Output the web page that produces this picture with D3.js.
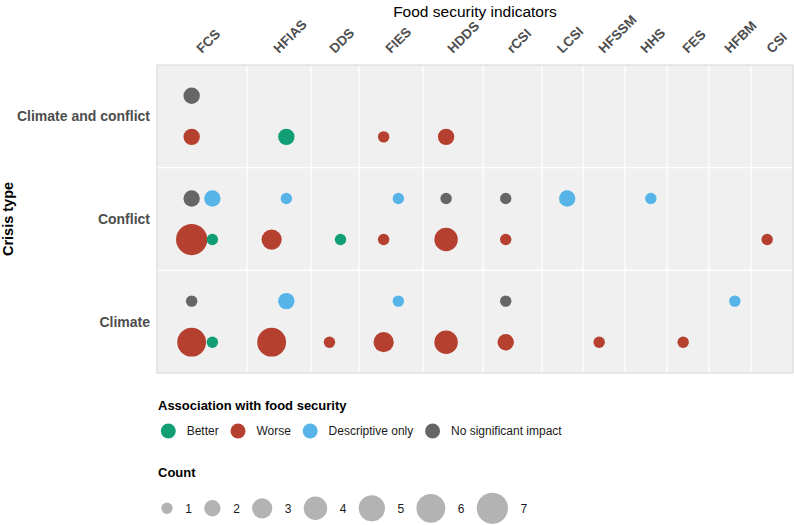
<!DOCTYPE html>
<html>
<head>
<meta charset="utf-8">
<script src="https://cdn.jsdelivr.net/npm/d3@7"></script>
<style>
  html, body { margin: 0; padding: 0; background: #ffffff; }
  svg { display: block; font-family: "Liberation Sans", Arial, sans-serif; }
</style>
</head>
<body>
<svg id="chart" width="794" height="525"></svg>
<script>
// ---------- data ----------
const indicators = ["FCS", "HFIAS", "DDS", "FIES", "HDDS", "rCSI", "LCSI", "HFSSM", "HHS", "FES", "HFBM", "CSI"];
const crisisTypes = ["Climate and conflict", "Conflict", "Climate"];
const associations = ["Better", "Worse", "Descriptive only", "No significant impact"];
const countLevels = [1, 2, 3, 4, 5, 6, 7];

// [indicator, association, count]
const climateConflictPoints = [
  ["FCS", "No significant impact", 2],
  ["FCS", "Worse", 2],
  ["HFIAS", "Better", 2],
  ["FIES", "Worse", 1],
  ["HDDS", "Worse", 2]
];
const conflictPoints = [
  ["FCS", "No significant impact", 2],
  ["FCS", "Descriptive only", 2],
  ["FCS", "Worse", 7],
  ["FCS", "Better", 1],
  ["HFIAS", "Descriptive only", 1],
  ["HFIAS", "Worse", 3],
  ["DDS", "Better", 1],
  ["FIES", "Descriptive only", 1],
  ["FIES", "Worse", 1],
  ["HDDS", "No significant impact", 1],
  ["HDDS", "Worse", 4],
  ["rCSI", "No significant impact", 1],
  ["rCSI", "Worse", 1],
  ["LCSI", "Descriptive only", 2],
  ["HHS", "Descriptive only", 1],
  ["CSI", "Worse", 1]
];
const climatePoints = [
  ["FCS", "No significant impact", 1],
  ["FCS", "Worse", 6],
  ["FCS", "Better", 1],
  ["HFIAS", "Descriptive only", 2],
  ["HFIAS", "Worse", 6],
  ["DDS", "Worse", 1],
  ["FIES", "Descriptive only", 1],
  ["FIES", "Worse", 3],
  ["HDDS", "Worse", 4],
  ["rCSI", "No significant impact", 1],
  ["rCSI", "Worse", 2],
  ["HFSSM", "Worse", 1],
  ["FES", "Worse", 1],
  ["HFBM", "Descriptive only", 1]
];

// ---------- layout / style ----------
const columnWeights = [90, 64, 48, 64, 60, 59, 41, 42, 42, 42, 42, 42];
const colors = {
  "Better": "#119E74",
  "Worse": "#B5402F",
  "Descriptive only": "#56B4E9",
  "No significant impact": "#666666"
};
const dodgeX = { "Better": "right", "Worse": "left", "Descriptive only": "right", "No significant impact": "left" };
const dodgeY = { "Better": "lower", "Worse": "lower", "Descriptive only": "upper", "No significant impact": "upper" };

const panel = { left: 157, right: 793, top: 65, bottom: 373 };
const svg = d3.select("#chart");

// x: columns of variable width
const cum = [0];
columnWeights.forEach(w => cum.push(cum[cum.length - 1] + w));
const xLin = d3.scaleLinear().domain([0, cum[cum.length - 1]]).range([panel.left, panel.right]);
const colStart = {}, colEnd = {};
indicators.forEach((k, i) => { colStart[k] = xLin(cum[i]); colEnd[k] = xLin(cum[i + 1]); });
const colCenter = k => (colStart[k] + colEnd[k]) / 2;
const xIn = k => d3.scalePoint().domain(["left", "right"]).range([colStart[k], colEnd[k]]).padding(1.675);

// y: rows
const y = d3.scaleBand().domain(crisisTypes).range([panel.top, panel.bottom]).paddingInner(0);
const yIn = c => d3.scalePoint().domain(["upper", "lower"]).range([y(c), y(c) + y.bandwidth()]).padding(0.75);

const r = d3.scaleSqrt().domain([1, 7]).range([5.7, 15.6]);

// panel background
svg.append("rect")
  .attr("x", panel.left).attr("y", panel.top)
  .attr("width", panel.right - panel.left).attr("height", panel.bottom - panel.top)
  .attr("fill", "#F0F0F0");

// column separators
indicators.slice(1).forEach(k => {
  svg.append("line")
    .attr("x1", colStart[k]).attr("x2", colStart[k])
    .attr("y1", panel.top).attr("y2", panel.bottom)
    .attr("stroke", "#ffffff").attr("stroke-width", 1.2);
});
crisisTypes.slice(1).forEach(c => {
  svg.append("line")
    .attr("x1", panel.left).attr("x2", panel.right)
    .attr("y1", y(c)).attr("y2", y(c))
    .attr("stroke", "#ffffff").attr("stroke-width", 1.2);
});
svg.append("rect")
  .attr("x", panel.left).attr("y", panel.top)
  .attr("width", panel.right - panel.left).attr("height", panel.bottom - panel.top)
  .attr("fill", "none").attr("stroke", "#D6D6D6").attr("stroke-width", 1);

// points
const allPoints = [];
[[crisisTypes[0], climateConflictPoints], [crisisTypes[1], conflictPoints], [crisisTypes[2], climatePoints]]
  .forEach(([c, arr]) => arr.forEach(([ind, assoc, n]) => allPoints.push({ c, ind, assoc, n })));
allPoints.sort((a, b) => b.n - a.n);

svg.append("g").selectAll("circle").data(allPoints).join("circle")
  .attr("cx", d => xIn(d.ind)(dodgeX[d.assoc]))
  .attr("cy", d => yIn(d.c)(dodgeY[d.assoc]))
  .attr("r", d => r(d.n))
  .attr("fill", d => colors[d.assoc]);

// top axis labels (rotated)
svg.append("g").selectAll("text").data(indicators).join("text")
  .attr("transform", k => `translate(${colCenter(k)},54) rotate(-45)`)
  .attr("text-anchor", "start")
  .attr("font-size", 13.5)
  .attr("font-weight", "bold")
  .attr("fill", "#4D4D4D")
  .text(k => k);

// top axis title
svg.append("text")
  .attr("x", (panel.left + panel.right) / 2).attr("y", 17)
  .attr("text-anchor", "middle")
  .attr("font-size", 15.5)
  .attr("fill", "#000")
  .text("Food security indicators");

// row labels
svg.append("g").selectAll("text").data(crisisTypes).join("text")
  .attr("x", 150)
  .attr("y", c => y(c) + y.bandwidth() / 2 + 5)
  .attr("text-anchor", "end")
  .attr("font-size", 14)
  .attr("font-weight", "bold")
  .attr("fill", "#4D4D4D")
  .text(c => c);

// y-axis title
svg.append("text")
  .attr("transform", `translate(13,${(panel.top + panel.bottom) / 2}) rotate(-90)`)
  .attr("text-anchor", "middle")
  .attr("font-size", 14.5)
  .attr("font-weight", "bold")
  .attr("fill", "#000")
  .text("Crisis type");

// ---------- legend: association ----------
const lg = svg.append("g");
lg.append("text")
  .attr("x", 158).attr("y", 410)
  .attr("font-size", 13).attr("font-weight", "bold").attr("fill", "#000")
  .text("Association with food security");

let lx = 168.3;
associations.forEach(a => {
  lg.append("circle").attr("cx", lx).attr("cy", 431).attr("r", 7.5).attr("fill", colors[a]);
  const t = lg.append("text")
    .attr("x", lx + 18.4).attr("y", 435.3)
    .attr("font-size", 12).attr("fill", "#1a1a1a")
    .text(a);
  const w = t.node().getComputedTextLength();
  lx = lx + 18.4 + w + 19.3;
});

// ---------- legend: count ----------
lg.append("text")
  .attr("x", 158).attr("y", 477)
  .attr("font-size", 13).attr("font-weight", "bold").attr("fill", "#000")
  .text("Count");

let cx = 161.3; // left edge of first circle
countLevels.forEach(n => {
  const rr = r(n);
  const c = cx + rr;
  lg.append("circle").attr("cx", c).attr("cy", 508.3).attr("r", rr).attr("fill", "#B3B3B3");
  const t = lg.append("text")
    .attr("x", c + rr + 12.6).attr("y", 512.6)
    .attr("font-size", 12).attr("fill", "#1a1a1a")
    .text(n);
  const w = t.node().getComputedTextLength();
  cx = c + rr + 12.6 + w + 12.2;
});
</script>
</body>
</html>
